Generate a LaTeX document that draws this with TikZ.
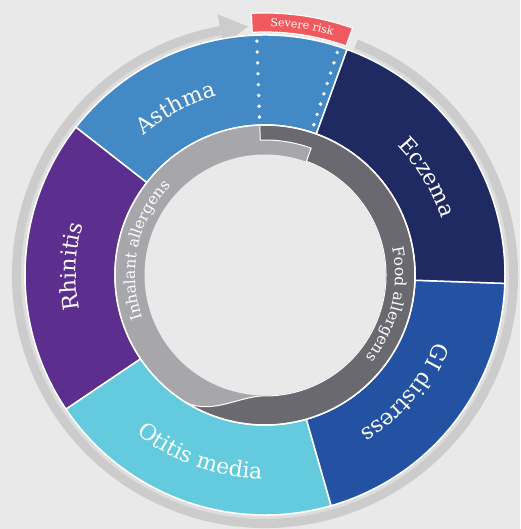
\documentclass[tikz,border=0pt]{standalone}
\usepackage{fontspec}
\setmainfont{DejaVu Serif}
\usetikzlibrary{decorations.text}
\definecolor{bgcol}{RGB}{233,233,233}
\definecolor{asthmacol}{RGB}{66,137,198}
\definecolor{rhinitiscol}{RGB}{92,47,142}
\definecolor{otitiscol}{RGB}{99,203,221}
\definecolor{gicol}{RGB}{35,82,163}
\definecolor{eczemacol}{RGB}{31,41,98}
\definecolor{severecol}{RGB}{240,90,95}
\definecolor{inhalantcol}{RGB}{167,166,171}
\definecolor{foodcol}{RGB}{106,105,111}
\definecolor{arrowcol}{RGB}{204,204,204}
\definecolor{arrowlight}{RGB}{221,221,221}
\newcommand\ringfont{\fontsize{22}{26}\selectfont}
\newcommand\allergenfont{\fontsize{15.5}{18}\selectfont}
\newcommand\riskfont{\fontsize{11}{13}\selectfont}

\begin{document}
\begin{tikzpicture}[x=1pt,y=1pt,
    seg/.style={draw=white,line width=1.5pt},
    ringlabel/.style={decorate,decoration={text along path,text align=center,text color=white,text={|\ringfont|#1}}},
    allergenlabel/.style={decorate,decoration={text along path,text align=center,text color=white,text={|\allergenfont|#1}}},
    risklabel/.style={decorate,decoration={text along path,text align=center,text color=white,text={|\riskfont|#1}}}]
    \fill[bgcol] (-265,-254) rectangle (255,275);
    \useasboundingbox (-265,-254) rectangle (255,275);

    \draw[arrowlight,line width=3pt] (68.5:242.5) arc[start angle=68.5,end angle=-259.7,radius=242.5];
    \fill[arrowcol] (68.5:253) arc[start angle=68.5,end angle=-259.7,radius=253] -- (-259.7:265) -- (-266.1:249) -- (-259.7:234) -- (-259.7:244) arc[start angle=-259.7,end angle=68.5,radius=244] -- cycle;

    \fill[asthmacol,seg] (70:150) arc[start angle=70,end angle=142,radius=150] -- (142:240) arc[start angle=142,end angle=70,radius=240] -- cycle;
    \fill[rhinitiscol,seg] (142:150) arc[start angle=142,end angle=214,radius=150] -- (214:240) arc[start angle=214,end angle=142,radius=240] -- cycle;
    \fill[otitiscol,seg] (214:150) arc[start angle=214,end angle=286,radius=150] -- (286:240) arc[start angle=286,end angle=214,radius=240] -- cycle;
    \fill[gicol,seg] (-74:150) arc[start angle=-74,end angle=-2,radius=150] -- (-2:240) arc[start angle=-2,end angle=-74,radius=240] -- cycle;
    \fill[eczemacol,seg] (-2:150) arc[start angle=-2,end angle=70,radius=150] -- (70:240) arc[start angle=70,end angle=-2,radius=240] -- cycle;

    \foreach \a in {72,92}
      \foreach \i in {0,...,7}
        \fill[white] (\a:{158+\i*10.85}) circle[radius=1.9];

    \fill[severecol,draw=white,line width=1.2pt] (70.5:243) arc[start angle=70.5,end angle=93,radius=243] -- (93:262) arc[start angle=93,end angle=70.5,radius=262] -- cycle;
    \path[risklabel=Severe risk] (95:249) arc[start angle=95,end angle=68,radius=249];

    \fill[inhalantcol] (0,0) circle[radius=150];
    \fill[foodcol,draw=white,line width=1pt] (92:150) -- (92:135) arc[start angle=92,end angle=70,radius=135] -- (70:121) arc[start angle=70,end angle=-88,radius=121] .. controls (-101:121) and (-110:150) .. (-122:150) arc[start angle=-122,end angle=92,radius=150] -- cycle;
    \fill[bgcol] (0,0) circle[radius=120.5];
    \draw[white,line width=1.5pt] (0,0) circle[radius=150];

    \path[ringlabel=Asthma] (160:185) arc[start angle=160,end angle=76,radius=185];
    \path[ringlabel=Rhinitis] (225:189) arc[start angle=225,end angle=130,radius=189];
    \path[ringlabel=Otitis media] (200:204) arc[start angle=200,end angle=300,radius=204];
    \path[ringlabel=GI distress] (5:183) arc[start angle=5,end angle=-85,radius=183];
    \path[ringlabel=Eczema] (80:185) arc[start angle=80,end angle=-18,radius=185];
    \path[allergenlabel=Inhalant allergens] (215:130) arc[start angle=215,end angle=121,radius=130];
    \path[allergenlabel=Food allergens] (40:130) arc[start angle=40,end angle=-67,radius=130];
\end{tikzpicture}
\end{document}
